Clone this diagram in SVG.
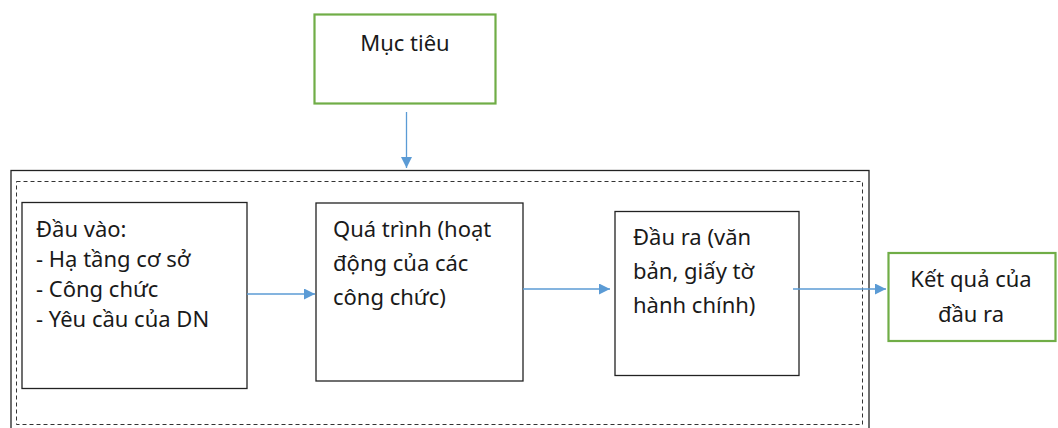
<svg xmlns="http://www.w3.org/2000/svg" width="1058" height="428" viewBox="0 0 1058 428">
<defs>
<marker id="ah" viewBox="0 0 10 10" refX="10" refY="5" markerWidth="11" markerHeight="11" orient="auto" markerUnits="userSpaceOnUse">
<path d="M0,0 L10,5 L0,10 z" fill="#5b9bd5"/>
</marker>
<style>
.t{font-family:"Noto Sans","Open Sans",sans-serif;font-size:22px;fill:#1a1a1a}
.bk{fill:#fff;stroke:#222;stroke-width:1.3}
.gr{fill:#fff;stroke:#70ad47;stroke-width:2.2}
.c{fill:none;stroke:#5b9bd5;stroke-width:1.3;marker-end:url(#ah)}
</style>
</defs>
<rect width="1058" height="428" fill="#fff"/>
<g id="frame">
<rect x="11" y="170.5" width="858" height="262" fill="none" stroke="#222" stroke-width="1.3"/>
<rect x="16.5" y="181.5" width="846" height="243" fill="none" stroke="#333" stroke-width="1" stroke-dasharray="4,3"/>
</g>
<g id="muc-tieu">
<rect class="gr" x="314.5" y="14.5" width="181" height="89"/>
<text class="t" x="405" y="51" text-anchor="middle">Mục tiêu</text>
</g>
<g id="dau-vao">
<rect class="bk" x="22" y="202.5" width="225" height="186"/>
<text class="t" x="36" y="237">Đầu vào:</text>
<text class="t" x="36" y="267">- Hạ tầng cơ sở</text>
<text class="t" x="36" y="297">- Công chức</text>
<text class="t" x="36" y="327">- Yêu cầu của DN</text>
</g>
<g id="qua-trinh">
<rect class="bk" x="316" y="203" width="207" height="178"/>
<text class="t" x="333" y="237">Quá trình (hoạt</text>
<text class="t" x="333" y="271">động của các</text>
<text class="t" x="333" y="305">công chức)</text>
</g>
<g id="dau-ra">
<rect class="bk" x="615" y="211.5" width="184" height="164"/>
<text class="t" x="633" y="245">Đầu ra (văn</text>
<text class="t" x="633" y="279">bản, giấy tờ</text>
<text class="t" x="633" y="313">hành chính)</text>
</g>
<g id="ket-qua">
<rect class="gr" x="888.5" y="253" width="167" height="88"/>
<text class="t" x="971" y="287" text-anchor="middle">Kết quả của</text>
<text class="t" x="971" y="322" text-anchor="middle">đầu ra</text>
</g>
<g id="connectors">
<line class="c" x1="406.5" y1="112" x2="406.5" y2="168"/>
<line class="c" x1="247" y1="294" x2="315" y2="294"/>
<line class="c" x1="523" y1="289" x2="610" y2="289"/>
<line class="c" x1="793" y1="289" x2="886" y2="289"/>
</g>
</svg>
